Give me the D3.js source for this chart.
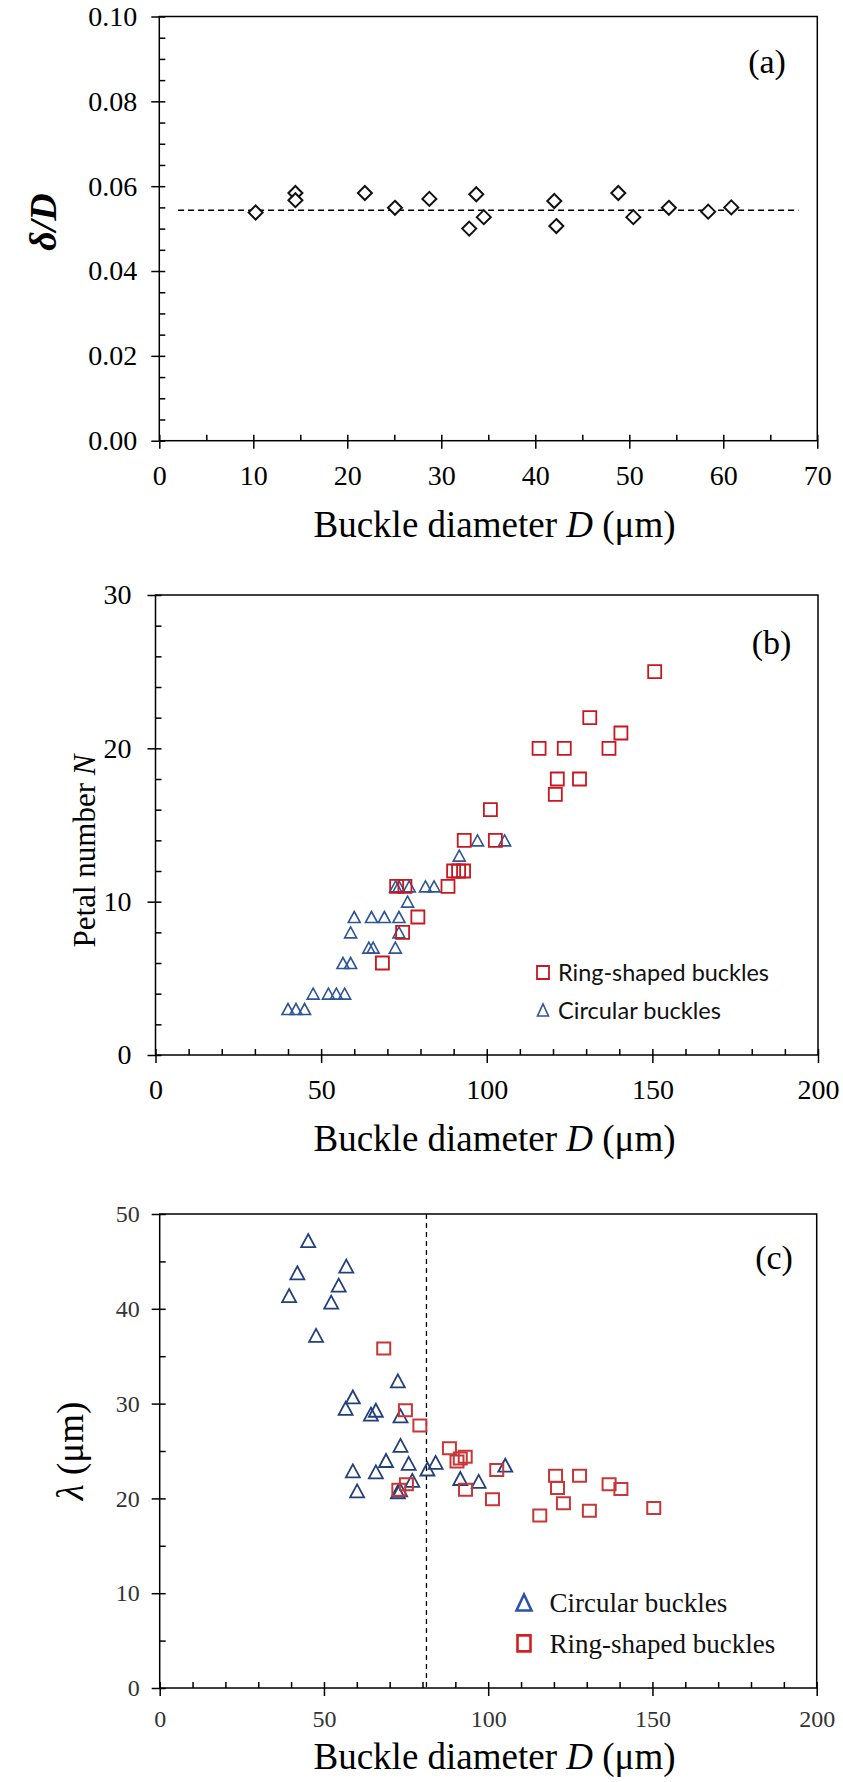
<!DOCTYPE html>
<html>
<head>
<meta charset="utf-8">
<script src="https://cdn.jsdelivr.net/npm/d3@7"></script>
<style>
  html, body { margin: 0; padding: 0; background: #fff; }
  svg { display: block; }
</style>
</head>
<body>
<svg id="chart" width="843" height="1782"></svg>
<script>
// ---------- DATA ----------
// Panel (a): delta/D vs buckle diameter D
const aDiameter = [10.25, 14.48, 14.48, 21.87, 25.07, 28.73, 33.72, 32.97, 34.52, 42.02, 42.24, 48.83, 50.43, 54.21, 58.39, 60.85];
const aRatio    = [0.0538, 0.0584, 0.0567, 0.0584, 0.0549, 0.0570, 0.0581, 0.0500, 0.0527, 0.0565, 0.0506, 0.0584, 0.0527, 0.0549, 0.0540, 0.0550];
const aMeanRatio = 0.0543;
const aMeanSpan  = [2, 68];
const aXTicks = [0, 10, 20, 30, 40, 50, 60, 70];
const aYTicks = [0, 0.02, 0.04, 0.06, 0.08, 0.10];

// Panel (b): petal number N vs buckle diameter D
const bRingD = [150.7, 131.1, 140.5, 115.8, 123.4, 136.9, 121.3, 128.0, 120.7, 101.1, 93.2, 102.6, 90.0, 91.5, 93.0, 88.3, 72.8, 75.3, 79.2, 74.6, 68.5];
const bRingN = [25, 22, 21, 20, 20, 20, 18, 18, 17, 16, 14, 14, 12, 12, 12, 11, 11, 11, 9, 8, 6];
const bCircD = [105.4, 97.2, 91.7, 72.5, 73.5, 76.6, 81.5, 84.1, 76.1, 60.0, 65.2, 69.1, 73.5, 58.9, 73.5, 64.4, 65.7, 72.4, 56.6, 58.9, 47.6, 52.2, 54.6, 57.1, 40.0, 42.4, 45.0];
const bCircN = [14, 14, 13, 11, 11, 11, 11, 11, 10, 9, 9, 9, 9, 8, 8, 7, 7, 7, 6, 6, 4, 4, 4, 4, 3, 3, 3];
const bXTicks = [0, 50, 100, 150, 200];
const bYTicks = [0, 10, 20, 30];

// Panel (c): wavelength lambda vs buckle diameter D
const cCircD = [45.2, 41.9, 39.4, 56.8, 54.5, 52.2, 47.6, 72.5, 58.8, 56.6, 65.8, 64.3, 73.3, 73.3, 68.9, 75.8, 58.8, 65.8, 76.9, 60.1, 72.5, 73.2, 81.5, 84.0, 91.5, 97.1, 105.2];
const cCircL = [47.2, 43.8, 41.4, 44.5, 42.5, 40.7, 37.2, 32.4, 30.7, 29.5, 29.3, 28.9, 28.7, 25.6, 24.0, 23.7, 22.9, 22.8, 21.9, 20.8, 20.7, 20.9, 23.1, 23.8, 22.1, 21.8, 23.5];
const cRingD = [68.2, 74.8, 79.2, 88.2, 90.5, 91.5, 93.0, 102.6, 93.1, 101.3, 72.8, 75.1, 120.5, 121.1, 127.8, 136.8, 140.4, 115.7, 122.9, 130.8, 150.4];
const cRingL = [35.8, 29.3, 27.7, 25.3, 23.9, 24.2, 24.4, 23.0, 20.9, 19.9, 20.9, 21.5, 22.4, 21.1, 22.4, 21.5, 21.0, 18.2, 19.5, 18.7, 19.0];
const cDivider = 81.2;
const cXTicks = [0, 50, 100, 150, 200];
const cYTicks = [0, 10, 20, 30, 40, 50];

// ---------- HELPERS ----------
const svg = d3.select("#chart");
const SERIF = "'Liberation Serif', 'Times New Roman', serif";

function diamondPath(cx, cy, r) {
  return `M${cx},${cy - r}L${cx + r},${cy}L${cx},${cy + r}L${cx - r},${cy}Z`;
}
function trianglePath(cx, cy, w, h) {
  return `M${cx},${cy - h / 2}L${cx + w / 2},${cy + h / 2}L${cx - w / 2},${cy + h / 2}Z`;
}
function squarePath(cx, cy, w, h) {
  return `M${cx - w / 2},${cy - h / 2}h${w}v${h}h${-w}Z`;
}

function drawFrame(x, y, opt) {
  const g = svg.append("g");
  const [x0, x1] = x.range();
  const [y0, y1] = y.range(); // y0 bottom, y1 top
  // minor ticks (inside)
  const minorX = d3.range(x.domain()[0], x.domain()[1] + 1e-9, opt.xMinor);
  const minorY = d3.range(y.domain()[0], y.domain()[1] + 1e-9, opt.yMinor);
  g.append("g").attr("transform", `translate(0,${y0})`)
    .call(d3.axisBottom(x).tickValues(minorX).tickSize(-6).tickFormat(""))
    .call(s => s.select(".domain").remove())
    .selectAll("line").attr("stroke", "#000").attr("stroke-width", 1.5);
  g.append("g").attr("transform", `translate(${x0},0)`)
    .call(d3.axisLeft(y).tickValues(minorY).tickSize(-6).tickFormat(""))
    .call(s => s.select(".domain").remove())
    .selectAll("line").attr("stroke", "#000").attr("stroke-width", 1.5);
  // major ticks (outside) with labels
  const ax = g.append("g").attr("transform", `translate(0,${y0})`)
    .call(d3.axisBottom(x).tickValues(opt.xTicks).tickSize(8).tickPadding(opt.xPad).tickFormat(opt.xFmt));
  ax.select(".domain").remove();
  ax.selectAll("line").attr("stroke", "#000").attr("stroke-width", 1.5);
  ax.selectAll("text").attr("font-family", SERIF).attr("font-size", opt.tickFont).attr("fill", opt.tickColor);
  const ay = g.append("g").attr("transform", `translate(${x0},0)`)
    .call(d3.axisLeft(y).tickValues(opt.yTicks).tickSize(8).tickPadding(opt.yPad).tickFormat(opt.yFmt));
  ay.select(".domain").remove();
  ay.selectAll("line").attr("stroke", "#000").attr("stroke-width", 1.5);
  ay.selectAll("text").attr("font-family", SERIF).attr("font-size", opt.tickFont).attr("fill", opt.tickColor);
  // box
  g.append("rect").attr("x", x0).attr("y", y1).attr("width", x1 - x0).attr("height", y0 - y1)
    .attr("fill", "none").attr("stroke", "#000").attr("stroke-width", 1.5);
  return g;
}

function xTitle(cx, baseline, size) {
  const t = svg.append("text").attr("x", cx).attr("y", baseline).attr("text-anchor", "middle")
    .attr("font-family", SERIF).attr("font-size", size).attr("fill", "#000");
  t.append("tspan").text("Buckle diameter ");
  t.append("tspan").attr("font-style", "italic").text("D");
  t.append("tspan").text(" (μm)");
}

// ---------- PANEL (a) ----------
{
  const x = d3.scaleLinear().domain([0, 70]).range([159.3, 817.3]);
  const y = d3.scaleLinear().domain([0, 0.1]).range([440.7, 16.5]);
  drawFrame(x, y, {xMinor: 5, yMinor: 0.005, xTicks: aXTicks, yTicks: aYTicks,
    xFmt: d3.format("d"), yFmt: d3.format(".2f"), xPad: 16, yPad: 14, tickFont: 28, tickColor: "#000"});
  svg.append("line")
    .attr("x1", x(aMeanSpan[0])).attr("x2", x(aMeanSpan[1]))
    .attr("y1", y(aMeanRatio)).attr("y2", y(aMeanRatio))
    .attr("stroke", "#000").attr("stroke-width", 1.5).attr("stroke-dasharray", "6,4");
  svg.append("g").selectAll("path").data(d3.range(aDiameter.length)).join("path")
    .attr("d", i => diamondPath(x(aDiameter[i]), y(aRatio[i]), 7))
    .attr("fill", "#fff").attr("stroke", "#111").attr("stroke-width", 2);
  svg.append("text").attr("x", 767).attr("y", 73).attr("text-anchor", "middle")
    .attr("font-family", SERIF).attr("font-size", 34).text("(a)");
  const yt = svg.append("text").attr("transform", "translate(56,222) rotate(-90)")
    .attr("text-anchor", "middle").attr("font-family", SERIF).attr("font-size", 38)
    .attr("font-style", "italic").attr("font-weight", "bold");
  yt.append("tspan").text("δ/D");
  xTitle(494.5, 537, 37);
}

// ---------- PANEL (b) ----------
{
  const x = d3.scaleLinear().domain([0, 200]).range([155.5, 818]);
  const y = d3.scaleLinear().domain([0, 30]).range([1055, 595]);
  drawFrame(x, y, {xMinor: 10, yMinor: 2, xTicks: bXTicks, yTicks: bYTicks,
    xFmt: d3.format("d"), yFmt: d3.format("d"), xPad: 16, yPad: 16, tickFont: 28, tickColor: "#000"});
  const red = "#c8171e", blue = "#2e5597";
  svg.append("g").selectAll("path").data(d3.range(bCircD.length)).join("path")
    .attr("d", i => trianglePath(x(bCircD[i]), y(bCircN[i]), 12, 11))
    .attr("fill", "none").attr("stroke", blue).attr("stroke-width", 1.6);
  svg.append("g").selectAll("path").data(d3.range(bRingD.length)).join("path")
    .attr("d", i => squarePath(x(bRingD[i]), y(bRingN[i]), 13, 13))
    .attr("fill", "none").attr("stroke", red).attr("stroke-width", 1.8);
  // legend
  const SANS = "Lato, 'Open Sans', sans-serif";
  svg.append("path").attr("d", squarePath(543, 972.5, 12, 13)).attr("fill", "none").attr("stroke", red).attr("stroke-width", 1.8);
  svg.append("text").attr("x", 558).attr("y", 981).attr("font-family", SANS).attr("font-size", 24)
    .attr("fill", "#111").attr("textLength", 211).attr("lengthAdjust", "spacingAndGlyphs").text("Ring-shaped buckles");
  svg.append("path").attr("d", trianglePath(543, 1010, 11, 12)).attr("fill", "none").attr("stroke", blue).attr("stroke-width", 1.6);
  svg.append("text").attr("x", 558).attr("y", 1018.5).attr("font-family", SANS).attr("font-size", 24)
    .attr("fill", "#111").attr("textLength", 163).attr("lengthAdjust", "spacingAndGlyphs").text("Circular buckles");
  svg.append("text").attr("x", 771.5).attr("y", 654).attr("text-anchor", "middle")
    .attr("font-family", SERIF).attr("font-size", 34).text("(b)");
  const yt = svg.append("text").attr("transform", "translate(95,851) rotate(-90)")
    .attr("text-anchor", "middle").attr("font-family", SERIF).attr("font-size", 31);
  yt.append("tspan").text("Petal number ");
  yt.append("tspan").attr("font-style", "italic").text("N");
  xTitle(494.5, 1151, 37);
}

// ---------- PANEL (c) ----------
{
  const x = d3.scaleLinear().domain([0, 200]).range([159.7, 816.7]);
  const y = d3.scaleLinear().domain([0, 50]).range([1688, 1214]);
  drawFrame(x, y, {xMinor: 10, yMinor: 5, xTicks: cXTicks, yTicks: cYTicks,
    xFmt: d3.format("d"), yFmt: d3.format("d"), xPad: 14, yPad: 12, tickFont: 24, tickColor: "#333"});
  const red = "#c83737", blue = "#22407a";
  svg.append("line").attr("x1", x(cDivider)).attr("x2", x(cDivider))
    .attr("y1", y(50)).attr("y2", y(0))
    .attr("stroke", "#000").attr("stroke-width", 1.3).attr("stroke-dasharray", "5,4");
  svg.append("g").selectAll("path").data(d3.range(cCircD.length)).join("path")
    .attr("d", i => trianglePath(x(cCircD[i]), y(cCircL[i]), 14, 13))
    .attr("fill", "none").attr("stroke", blue).attr("stroke-width", 1.8);
  svg.append("g").selectAll("path").data(d3.range(cRingD.length)).join("path")
    .attr("d", i => squarePath(x(cRingD[i]), y(cRingL[i]), 13, 12))
    .attr("fill", "none").attr("stroke", red).attr("stroke-width", 2);
  // legend
  svg.append("path").attr("d", trianglePath(524, 1602.5, 15, 16)).attr("fill", "none").attr("stroke", "#2b53a8").attr("stroke-width", 2.6);
  svg.append("text").attr("x", 549.5).attr("y", 1612).attr("font-family", SERIF).attr("font-size", 27)
    .attr("fill", "#111").text("Circular buckles");
  svg.append("path").attr("d", squarePath(524, 1643.4, 13, 16)).attr("fill", "none").attr("stroke", "#d42020").attr("stroke-width", 2.6);
  svg.append("text").attr("x", 549.5).attr("y", 1653).attr("font-family", SERIF).attr("font-size", 27)
    .attr("fill", "#111").text("Ring-shaped buckles");
  svg.append("text").attr("x", 774).attr("y", 1269).attr("text-anchor", "middle")
    .attr("font-family", SERIF).attr("font-size", 34).text("(c)");
  const yt = svg.append("text").attr("transform", "translate(83,1451) rotate(-90)")
    .attr("text-anchor", "middle").attr("font-family", SERIF).attr("font-size", 37);
  yt.append("tspan").attr("font-style", "italic").text("λ");
  yt.append("tspan").text(" (μm)");
  xTitle(494.5, 1769, 37);
}
</script>
</body>
</html>
